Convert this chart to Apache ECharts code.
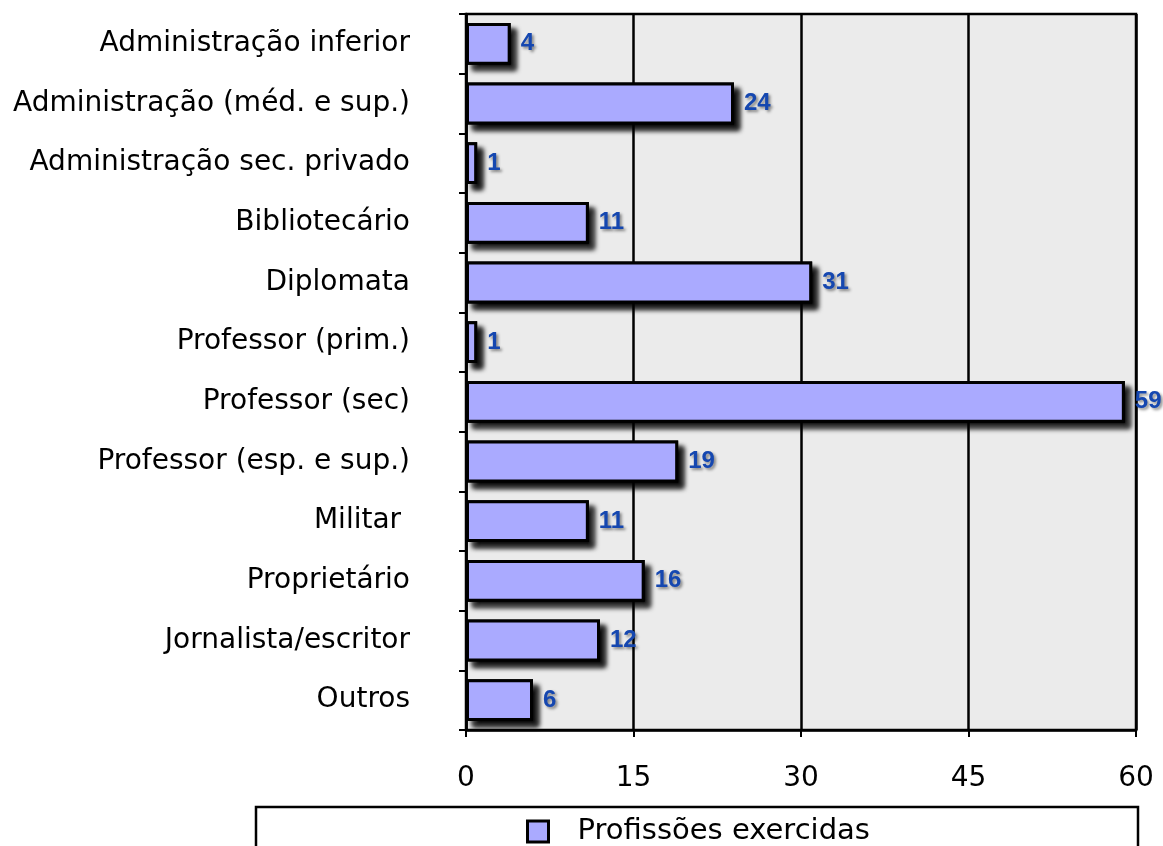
<!DOCTYPE html>
<html>
<head>
<meta charset="utf-8">
<script src="https://cdn.jsdelivr.net/npm/echarts@6/dist/echarts.min.js"></script>
<style>
html,body{margin:0;padding:0;background:#fff;}
#chart{width:1163px;height:846px;}
</style>
</head>
<body>
<div id="chart"></div>
<script>
const categories = [
  "Administração inferior",
  "Administração (méd. e sup.)",
  "Administração sec. privado",
  "Bibliotecário",
  "Diplomata",
  "Professor (prim.)",
  "Professor (sec)",
  "Professor (esp. e sup.)",
  "Militar ",
  "Proprietário",
  "Jornalista/escritor",
  "Outros"
];
const values = [4, 24, 1, 11, 31, 1, 59, 19, 11, 16, 12, 6];
const seriesName = "Profissões exercidas";
const xTicks = { min: 0, max: 60, interval: 15 };

const chart = echarts.init(document.getElementById('chart'), null, {renderer: 'canvas'});
const option = {
  animation: false,
  backgroundColor: '#ffffff',
  grid: {
    left: 466, right: 27, top: 14, bottom: 116,
    show: true, backgroundColor: '#ebebeb', borderColor: '#000', borderWidth: 2.5
  },
  xAxis: {
    type: 'value',
    min: xTicks.min, max: xTicks.max, interval: xTicks.interval,
    axisLine: { show: true, lineStyle: { color: '#000', width: 2.5 } },
    axisTick: { show: true, length: 7, lineStyle: { color: '#000', width: 2 } },
    splitLine: { show: true, lineStyle: { color: '#000', width: 2.5 } },
    axisLabel: { color: '#000', fontFamily: 'DejaVu Sans', fontSize: 28, margin: 35 }
  },
  yAxis: {
    type: 'category',
    data: categories,
    inverse: true,
    axisLine: { show: true, lineStyle: { color: '#000', width: 2.5 } },
    axisTick: { show: true, length: 7, lineStyle: { color: '#000', width: 2 } },
    axisLabel: { color: '#000', fontFamily: 'DejaVu Sans', fontSize: 28, margin: 56 }
  },
  legend: {
    data: [seriesName],
    left: 521, top: 812,
    itemWidth: 21, itemHeight: 21,
    icon: 'rect',
    itemStyle: { borderColor: '#000', borderWidth: 3, shadowBlur: 0, shadowOffsetX: 0, shadowOffsetY: 0, shadowColor: 'rgba(0,0,0,0)' },
    textStyle: { color: '#000', fontFamily: 'DejaVu Sans', fontSize: 29, padding: [0, 0, 0, 24] }
  },
  graphic: [{
    type: 'rect',
    shape: { x: 256, y: 807, width: 882, height: 60 },
    style: { fill: 'none', stroke: '#000', lineWidth: 2.5 },
    silent: true
  }],
  series: [{
    name: 'shadow',
    type: 'bar',
    data: values,
    barCategoryGap: '30%',
    barGap: '-100%',
    silent: true,
    itemStyle: {
      color: '#000',
      borderColor: '#000',
      borderWidth: 3,
      shadowColor: 'rgba(0,0,0,1)',
      shadowBlur: 5,
      shadowOffsetX: 6,
      shadowOffsetY: 6
    }
  }, {
    name: seriesName,
    type: 'bar',
    data: values,
    barCategoryGap: '30%',
    barGap: '-100%',
    itemStyle: {
      color: '#aaaaff',
      borderColor: '#000',
      borderWidth: 3
    },
    label: {
      show: true,
      position: 'right',
      distance: 10,
      color: '#1547b0',
      fontFamily: 'Liberation Sans',
      fontWeight: 'bold',
      fontSize: 24,
      textShadowColor: 'rgba(0,0,0,0.45)',
      textShadowBlur: 3,
      textShadowOffsetX: 2,
      textShadowOffsetY: 2
    }
  }]
};
chart.setOption(option);
</script>
</body>
</html>
